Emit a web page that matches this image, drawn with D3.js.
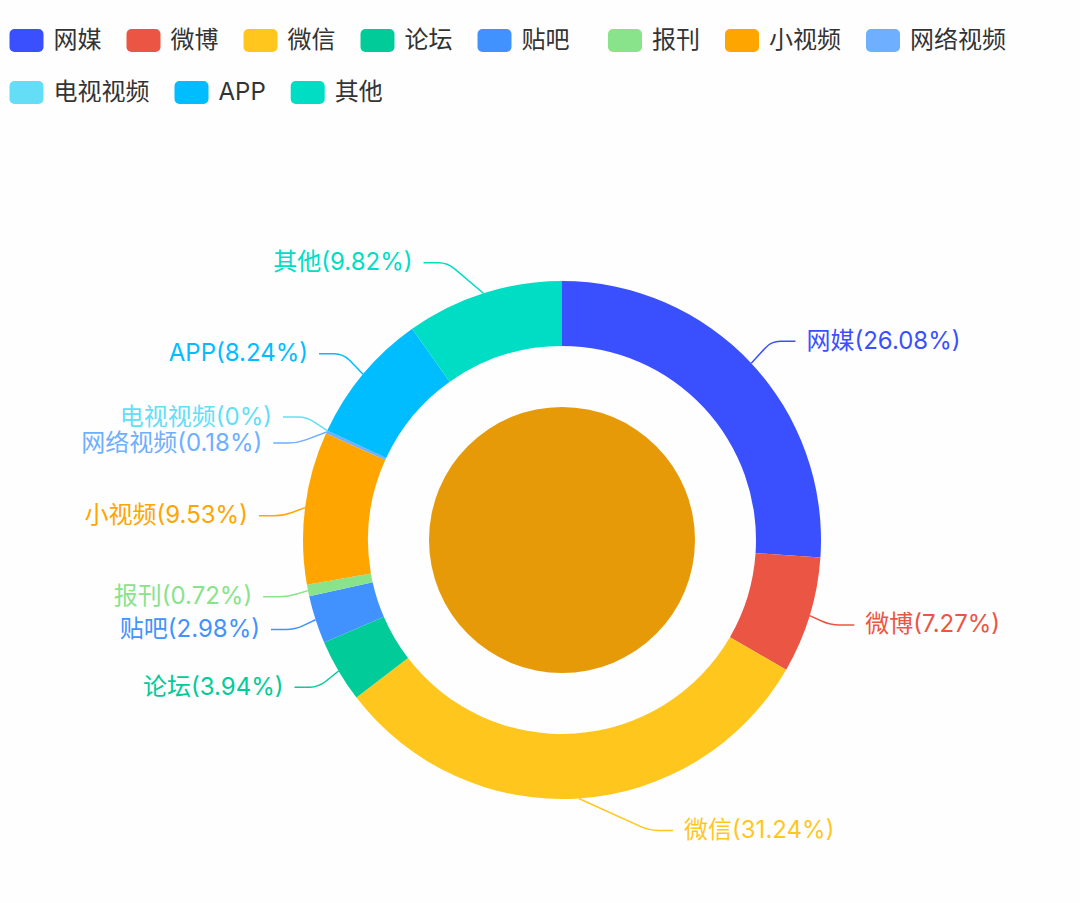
<!DOCTYPE html>
<html><head><meta charset="utf-8">
<script src="https://cdn.jsdelivr.net/npm/d3@7"></script>
<style>body{margin:0;background:#fefefe} svg{display:block} text{white-space:pre}</style>
</head><body>
<svg id="chart" width="1080" height="903"></svg>
<script>
const categories = ["网媒","微博","微信","论坛","贴吧","报刊","小视频","网络视频","电视视频","APP","其他"];
const legendLabels = ["网媒","微博","微信","论坛","贴吧  ","报刊","小视频","网络视频","电视视频","APP","其他"];
const shares = [26.08, 7.27, 31.24, 3.94, 2.98, 0.72, 9.53, 0.18, 0, 8.24, 9.82];
const colors = ["#3a50ff","#ea5544","#ffc71e","#02cb9a","#4192ff","#89e38b","#ffa500","#6eafff","#64def7","#00bdff","#00ddc5"];
const centerColor = "#e69a08";

const W = 1080, H = 903, cx = 562, cy = 540;
const rOuter = 259, rInner = 194, rCenter = 133;
const len1 = 32, len2 = 24, labelH = 26, gap = 11;
const labelFont = "Inter, 'Noto Sans CJK SC', sans-serif";
const svg = d3.select('#chart');
svg.append('rect').attr('width', W).attr('height', H).attr('fill', '#fefefe');

// ---- Legend ----
const legend = svg.append('g');
const rowY = [40.5, 92.5];
let lx = 9.5, row = 0;
legendLabels.forEach((name, i) => {
  const t = legend.append('text').text(name)
    .attr('font-family', labelFont).attr('font-size', 24).attr('fill', '#333')
    .attr('dominant-baseline', 'central');
  const tw = t.node().getComputedTextLength();
  const itemW = 34 + 10 + tw;
  if (lx + itemW > W - 5) { row++; lx = 9.5; }
  legend.append('rect').attr('x', lx).attr('y', rowY[row] - 11.5)
    .attr('width', 34).attr('height', 23).attr('rx', 5).attr('fill', colors[i]);
  t.attr('x', lx + 44).attr('y', rowY[row] - 1);
  lx += itemW + 25;
});

// ---- Donut ----
const pie = d3.pie().value(d => d).sort(null).startAngle(0).endAngle(2 * Math.PI);
const arcs = pie(shares);
const arc = d3.arc().innerRadius(rInner).outerRadius(rOuter);
const g = svg.append('g').attr('transform', `translate(${cx},${cy})`);
g.selectAll('path.slice').data(arcs).join('path').attr('class', 'slice')
  .attr('d', arc).attr('fill', (d, i) => colors[i]);
g.append('circle').attr('r', rCenter).attr('fill', centerColor);

// ---- Label layout (ECharts-4 style) ----
const layouts = arcs.map((d, i) => {
  const a = (d.startAngle + d.endAngle) / 2;
  const dx = Math.sin(a), dy = -Math.cos(a);
  const dir = dx < 0 ? -1 : 1;
  return { i, dir, p0: [rOuter * dx, rOuter * dy],
           x: (rOuter + len1) * dx + dir * len2, y: (rOuter + len1) * dy };
});

function adjustSide(list, dir) {
  list.sort((a, b) => a.y - b.y);
  const n = list.length;
  function shiftUp(end, delta) {
    for (let j = end; j >= 0; j--) {
      list[j].y -= delta;
      if (j > 0 && list[j].y > list[j - 1].y + labelH) break;
    }
  }
  function shiftDown(start, end, delta) {
    for (let j = start; j < end; j++) {
      list[j].y += delta;
      if (j > start && j + 1 < end && list[j + 1].y > list[j].y + labelH) {
        shiftUp(j, delta / 2);
        return;
      }
    }
    shiftUp(end - 1, delta / 2);
  }
  let lastY = -cy;
  for (let i = 0; i < n; i++) {
    const delta = list[i].y - lastY;
    if (delta < 0) shiftDown(i, n, -delta);
    lastY = list[i].y + labelH;
  }
  const up = list.filter(d => d.y < 0), down = list.filter(d => d.y >= 0);
  const R3 = rOuter + len1 + len2;
  function changeX(arr, isDown) {
    let last = isDown ? Number.MAX_VALUE : 0;
    arr.forEach(d => {
      const ady = Math.abs(d.y);
      let ddx = ady < rOuter + len1 ? Math.sqrt(R3 * R3 - ady * ady) : Math.abs(d.x);
      if (isDown && ddx >= last) ddx = last - 10;
      if (!isDown && ddx <= last) ddx = last + 10;
      d.x = ddx * dir;
      last = ddx;
    });
  }
  changeX(up, false);
  changeX(down, true);
}
adjustSide(layouts.filter(d => d.dir < 0), -1);
adjustSide(layouts.filter(d => d.dir > 0), 1);

function linePath(p0, p1, p2, k) {
  const d01 = Math.hypot(p1[0] - p0[0], p1[1] - p0[1]);
  const d12 = Math.hypot(p2[0] - p1[0], p2[1] - p1[1]);
  const k1 = Math.min(k, d01 * 0.5), k2 = Math.min(k, d12 * 0.5);
  const a = [p1[0] - (p1[0] - p0[0]) / d01 * k1, p1[1] - (p1[1] - p0[1]) / d01 * k1];
  const b = [p1[0] + (p2[0] - p1[0]) / d12 * k2, p1[1] + (p2[1] - p1[1]) / d12 * k2];
  return `M${p0[0]},${p0[1]}L${a[0]},${a[1]}Q${p1[0]},${p1[1]} ${b[0]},${b[1]}L${p2[0]},${p2[1]}`;
}

const labelG = g.append('g');
layouts.forEach(d => {
  const c = colors[d.i];
  const p2 = [d.x - d.dir * gap, d.y];
  const p1 = [p2[0] - d.dir * len2, d.y];
  labelG.append('path').attr('d', linePath(d.p0, p1, p2, 9))
    .attr('fill', 'none').attr('stroke', c).attr('stroke-width', 1.5);
  labelG.append('text').attr('x', d.x).attr('y', d.y - 1)
    .attr('text-anchor', d.dir < 0 ? 'end' : 'start')
    .attr('dominant-baseline', 'central')
    .attr('font-family', labelFont).attr('font-size', 24).attr('fill', c)
    .text(`${categories[d.i]}(${shares[d.i]}%)`);
});
</script>
</body></html>
